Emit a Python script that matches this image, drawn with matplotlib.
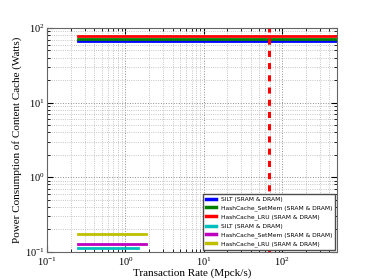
import numpy as np
import matplotlib
matplotlib.use('Agg')
import matplotlib.pyplot as plt

# transaction rate range (Mpck/s) and power (Watts)
x_dram = [0.25, 500]
silt_dram = [67.3, 67.3]
setmem_dram = [70.8, 70.8]
lru_dram = [78.5, 78.5]

x_sram = [0.25, 1.85]
x_silt_sram = [0.25, 1.45]
silt_sram = [0.112, 0.112]
setmem_sram = [0.127, 0.127]
lru_sram = [0.171, 0.171]

line_rate = 68.0

labels = ['SILT (SRAM & DRAM)', 'HashCache_SetMem (SRAM & DRAM)',
          'HashCache_LRU (SRAM & DRAM)', 'SILT (SRAM & DRAM)',
          'HashCache_SetMem (SRAM & DRAM)', 'HashCache_LRU (SRAM & DRAM)']

plt.rcParams['font.family'] = 'Liberation Serif'
plt.rcParams['mathtext.fontset'] = 'dejavuserif'

fig = plt.figure(figsize=(3.74, 2.8), dpi=100)
ax = fig.add_axes([0.126, 0.101, 0.775, 0.799])

ax.plot(x_dram, silt_dram, color='b', lw=2, label=labels[0])
ax.plot(x_dram, setmem_dram, color='g', lw=2, label=labels[1])
ax.plot(x_dram, lru_dram, color='r', lw=2, label=labels[2])
ax.plot(x_silt_sram, silt_sram, color='c', lw=2, label=labels[3])
ax.plot(x_sram, setmem_sram, color='m', lw=2, label=labels[4])
ax.plot(x_sram, lru_sram, color='y', lw=2, label=labels[5])
ax.axvline(line_rate, color='r', ls='--', lw=2.2, dashes=(2, 2))

ax.set_xscale('log')
ax.set_yscale('log')
ax.set_xlim(0.1, 500)
ax.set_ylim(0.1, 100)
ax.grid(True, which='major', ls=':', color='0.55', lw=0.7)
ax.grid(True, which='minor', ls=':', color='0.7', lw=0.6)
ax.tick_params(which='both', direction='in', top=True, right=True, labelsize=7.5)
ax.tick_params(axis='x', pad=3)
ax.tick_params(axis='y', pad=2)
ax.tick_params(which='major', length=4)
ax.tick_params(which='minor', length=2)
for s in ax.spines.values():
    s.set_color('0.4')

ax.set_xlabel('Transaction Rate (Mpck/s)', fontsize=8, labelpad=0)
ax.set_ylabel('Power Consumption of Content Cache (Watts)', fontsize=8, labelpad=2)

leg = ax.legend(loc='lower right', prop={'family': 'DejaVu Sans', 'size': 4.3},
                handlelength=1.6, borderaxespad=0.3, labelspacing=0.55,
                fancybox=False, framealpha=1, borderpad=0.5)
leg.get_frame().set_edgecolor('0.3')
for h in leg.get_lines():
    h.set_linewidth(2.5)

fig.savefig('out.png', dpi=100)
